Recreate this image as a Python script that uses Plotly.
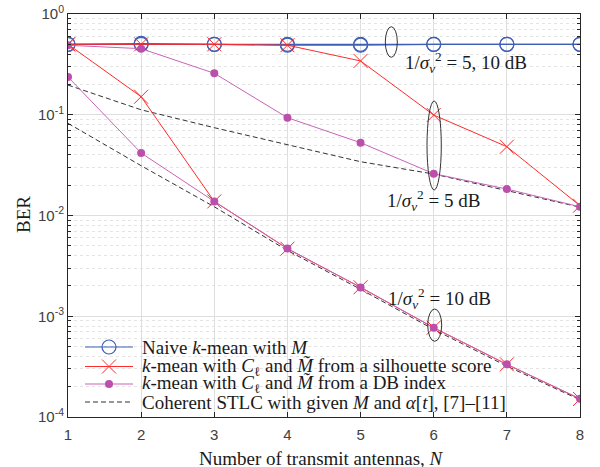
import plotly.graph_objects as go

# ---------------- data ----------------
N = [1, 2, 3, 4, 5, 6, 7, 8]
naive_10dB = [0.50, 0.51, 0.50, 0.49, 0.49, 0.50, 0.50, 0.50]
naive_5dB = [0.50, 0.50, 0.50, 0.50, 0.50, 0.50, 0.50, 0.50]
sil_10dB = [0.50, 0.151, 0.0138, 0.00468, 0.00194, 0.00077, 0.000333, 0.000151]
sil_5dB = [0.50, 0.50, 0.50, 0.49, 0.342, 0.0994, 0.0482, 0.0125]
db_10dB = [0.237, 0.0417, 0.0138, 0.00470, 0.00193, 0.00077, 0.000333, 0.000152]
db_5dB = [0.489, 0.453, 0.258, 0.0935, 0.0528, 0.0260, 0.0183, 0.0122]
stlc_10dB = [0.0822, 0.0312, 0.0122, 0.0045, 0.00185, 0.00074, 0.00032, 0.000148]
stlc_5dB = [0.197, 0.112, 0.0744, 0.050, 0.0342, 0.0258, 0.0176, 0.0121]

y_tickvals = [1e-4, 1e-3, 1e-2, 1e-1, 1]
y_ticktext = ["10<sup>-4</sup>", "10<sup>-3</sup>", "10<sup>-2</sup>", "10<sup>-1</sup>", "10<sup>0</sup>"]
y_minorvals = [m * 10 ** e for e in range(-4, 0) for m in range(2, 10)]

legend_labels = [
    "Naive <i>k</i>-mean with <i>M</i>",
    "<i>k</i>-mean with <i>C</i><sub>ℓ</sub> and <i>M̃</i> from a silhouette score",
    "<i>k</i>-mean with <i>C</i><sub>ℓ</sub> and <i>M̃</i> from a DB index",
    "Coherent STLC with given <i>M</i> and <i>α</i>[<i>t</i>], [7]–[11]",
]

BLUE = "#3f5fb7"
RED = "#ff2a2a"
MAG = "#bb4fab"
MAGL = "#c864b8"
DASHC = "#333333"
AX = "#262626"
SERIF = "Liberation Serif, Times New Roman, serif"
SANS = "Liberation Sans, Arial, sans-serif"

# plot area in pixels
L, R, T, B = 68, 580, 14, 417
W, H = 600, 467


def px(x):
    return (x - L) / (R - L)


def py(y):
    return (B - y) / (B - T)


fig = go.Figure()

# coherent STLC (dashed)
for ys in (stlc_10dB, stlc_5dB):
    fig.add_trace(go.Scatter(x=N, y=ys, mode="lines",
                             line=dict(color=DASHC, width=1, dash="5px,3px"),
                             showlegend=False))
# naive
for ys in (naive_10dB, naive_5dB):
    fig.add_trace(go.Scatter(x=N, y=ys, mode="lines+markers",
                             line=dict(color=BLUE, width=1.1),
                             marker=dict(symbol="circle-open", size=14, color=BLUE,
                                         line=dict(width=1.2, color=BLUE)),
                             showlegend=False))
# silhouette
for ys in (sil_10dB, sil_5dB):
    fig.add_trace(go.Scatter(x=N, y=ys, mode="lines+markers",
                             line=dict(color=RED, width=1),
                             marker=dict(symbol="x-thin-open", size=14, color=RED,
                                         line=dict(width=1, color=RED)),
                             showlegend=False))
# DB index
for ys in (db_10dB, db_5dB):
    fig.add_trace(go.Scatter(x=N, y=ys, mode="lines+markers",
                             line=dict(color=MAGL, width=1),
                             marker=dict(symbol="circle", size=8, color=MAG),
                             showlegend=False))

shapes = []
annotations = []

# legend background (between grid and traces)
shapes.append(dict(type="rect", xref="paper", yref="paper", layer="between",
                   x0=px(71), x1=px(518), y0=py(415), y1=py(333),
                   fillcolor="white", line=dict(width=0)))

rows_y = [347, 366.5, 384, 402]
lx0, lx1, lmx = 85, 133, 109
styles = [("solid", BLUE), ("solid", RED), ("solid", MAGL), ("dash", DASHC)]
for i, (yy, (dash, col)) in enumerate(zip(rows_y, styles)):
    shapes.append(dict(type="line", xref="paper", yref="paper", layer="above",
                       x0=px(lx0), x1=px(lx1), y0=py(yy), y1=py(yy),
                       line=dict(color=col, width=1.1, dash="5px,3px" if dash == "dash" else "solid")))
    annotations.append(dict(xref="paper", yref="paper", x=px(140), y=py(yy),
                            xanchor="left", yanchor="middle", showarrow=False,
                            text=legend_labels[i], font=dict(family=SERIF, size=19, color="#1a1a1a")))
# legend markers
r = 7
shapes.append(dict(type="circle", xref="paper", yref="paper", layer="above",
                   x0=px(lmx - r), x1=px(lmx + r), y0=py(rows_y[0] + r), y1=py(rows_y[0] - r),
                   line=dict(color=BLUE, width=1.2), fillcolor="rgba(0,0,0,0)"))
d = 7
for sgn in (1, -1):
    shapes.append(dict(type="line", xref="paper", yref="paper", layer="above",
                       x0=px(lmx - d), x1=px(lmx + d),
                       y0=py(rows_y[1] - sgn * d), y1=py(rows_y[1] + sgn * d),
                       line=dict(color=RED, width=1)))
rr = 4
shapes.append(dict(type="circle", xref="paper", yref="paper", layer="above",
                   x0=px(lmx - rr), x1=px(lmx + rr), y0=py(rows_y[2] + rr), y1=py(rows_y[2] - rr),
                   line=dict(color=MAG, width=0), fillcolor=MAG))

# ellipses
for (x0, x1, y0, y1) in [(385.3, 397.3, 26.7, 57.3), (427, 441.3, 101, 190), (427.7, 441.7, 309, 341.3)]:
    shapes.append(dict(type="circle", xref="paper", yref="paper", layer="above",
                       x0=px(x0), x1=px(x1), y0=py(y1), y1=py(y0),
                       line=dict(color="#333333", width=1)))

# SNR labels
for txt, cx, cy in [("1/<i>σ</i><sub><i>v</i></sub><sup>2</sup> = 5, 10 dB", 465.5, 62),
                    ("1/<i>σ</i><sub><i>v</i></sub><sup>2</sup> = 5 dB", 433.5, 200),
                    ("1/<i>σ</i><sub><i>v</i></sub><sup>2</sup> = 10 dB", 439.5, 298)]:
    annotations.append(dict(xref="paper", yref="paper", x=px(cx), y=py(cy),
                            xanchor="center", yanchor="middle", showarrow=False,
                            text=txt, font=dict(family=SERIF, size=19, color="#1a1a1a")))

# axis titles
annotations.append(dict(xref="paper", yref="paper", x=px(321), y=py(458),
                        xanchor="center", yanchor="middle", showarrow=False,
                        text="Number of transmit antennas, <i>N</i>",
                        font=dict(family=SERIF, size=19, color="#1a1a1a")))
annotations.append(dict(xref="paper", yref="paper", x=px(23), y=py(215),
                        xanchor="center", yanchor="middle", showarrow=False, textangle=-90,
                        text="BER", font=dict(family=SERIF, size=19, color="#1a1a1a")))

fig.update_layout(
    width=W, height=H,
    margin=dict(l=L, r=W - R, t=T, b=H - B, pad=0, autoexpand=False),
    paper_bgcolor="white", plot_bgcolor="white",
    showlegend=False,
    shapes=shapes, annotations=annotations,
    xaxis=dict(range=[1, 8], tickvals=N, ticktext=[str(n) for n in N],
               showgrid=True, gridcolor="#dedede", gridwidth=1,
               showline=True, linecolor=AX, linewidth=1, mirror="ticks",
               ticks="inside", ticklen=5, tickcolor=AX, ticklabelstandoff=4,
               tickfont=dict(family=SANS, size=15, color="#404040"),
               zeroline=False, automargin=False),
    yaxis=dict(type="log", range=[-4, 0], tickvals=y_tickvals, ticktext=y_ticktext,
               showgrid=True, gridcolor="#dedede", gridwidth=1,
               showline=True, linecolor=AX, linewidth=1, mirror="ticks",
               ticks="inside", ticklen=5, tickcolor=AX,
               tickfont=dict(family=SANS, size=15, color="#404040"),
               minor=dict(tickvals=y_minorvals, ticks="inside", ticklen=3, tickcolor=AX,
                          showgrid=True, gridcolor="#e4e4e4", griddash="dot", gridwidth=1),
               zeroline=False, automargin=False),
)

fig.write_html("out.html", config={"displayModeBar": False},
               post_script="document.body.style.margin='0';document.body.style.overflow='hidden';")
